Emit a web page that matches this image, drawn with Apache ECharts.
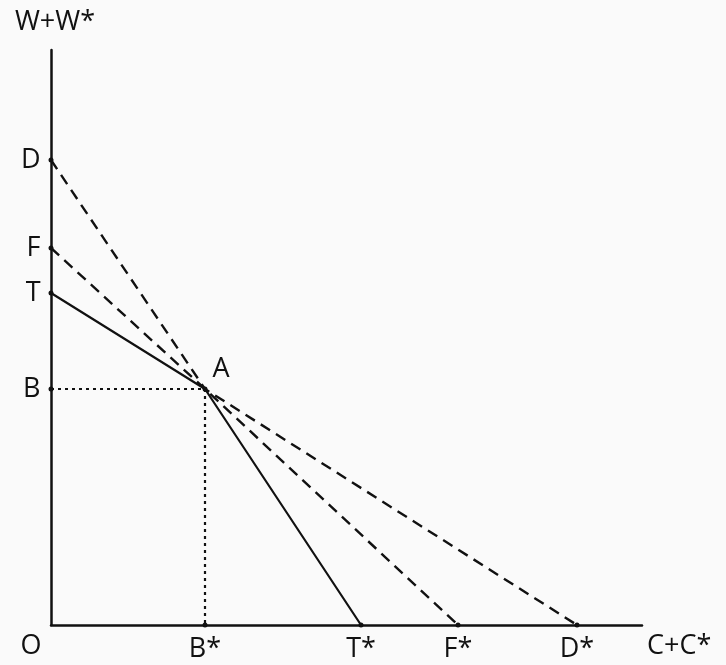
<!DOCTYPE html>
<html>
<head>
<meta charset="utf-8">
<script src="https://cdn.jsdelivr.net/npm/echarts@6/dist/echarts.min.js"></script>
<style>
  html, body { margin: 0; padding: 0; background: #fafafa; }
  #main { width: 726px; height: 665px; }
</style>
</head>
<body>
<div id="main"></div>
<script>
// diagram units (origin O at bottom left)
var pointA = [154, 236];
var yPoints = [['D', 465], ['F', 377], ['T', 332], ['B', 236]];
var xPoints = [['B*', 154], ['T*', 310], ['F*', 407], ['D*', 526]];
var lineT = [[0, 332], pointA, [310, 0]];
var lineF = [[0, 377], pointA, [407, 0]];
var lineD = [[0, 465], pointA, [526, 0]];
var guideB = [[0, 236], pointA, [154, 0]];

var font = 'Open Sans';
var ink = '#111';

var dom = document.getElementById('main');
var myChart = echarts.init(dom);

var yPts = yPoints.map(function (p) { return { value: [0, p[1]], name: p[0] }; });
var xPts = xPoints.map(function (p) { return { value: [p[1], 0], name: p[0] }; });

function lbl(pos, dist, off) {
    return {
        show: true, position: pos, distance: dist, offset: off || [0, 0],
        formatter: '{b}', fontFamily: font, fontSize: 27, color: ink
    };
}

var option = {
    backgroundColor: '#fafafa',
    animation: false,
    grid: { left: 51, right: 84, top: 50, bottom: 40 },
    xAxis: {
        type: 'value', min: 0, max: 591,
        name: 'C+C*', nameLocation: 'end', nameGap: 5,
        nameTextStyle: { fontFamily: font, fontSize: 27, color: ink, verticalAlign: 'top', padding: [8, 0, 0, 0] },
        axisLine: { lineStyle: { color: ink, width: 2.5 } },
        axisTick: { show: false }, axisLabel: { show: false }, splitLine: { show: false }
    },
    yAxis: {
        type: 'value', min: 0, max: 575,
        name: 'W+W*', nameLocation: 'end', nameGap: 14,
        nameTextStyle: { fontFamily: font, fontSize: 27, color: ink, padding: [0, 0, 0, 8] },
        axisLine: { lineStyle: { color: ink, width: 2.5 } },
        axisTick: { show: false }, axisLabel: { show: false }, splitLine: { show: false }
    },
    series: [
        {
            type: 'line', data: lineT, symbol: 'none',
            lineStyle: { color: ink, width: 2.2 }
        },
        {
            type: 'line', data: lineF, symbol: 'none',
            lineStyle: { color: ink, width: 2.4, type: [11, 7] }
        },
        {
            type: 'line', data: lineD, symbol: 'none',
            lineStyle: { color: ink, width: 2.4, type: [11, 7] }
        },
        {
            type: 'line', data: guideB, symbol: 'none',
            lineStyle: { color: ink, width: 2.2, type: [3, 4] }
        },
        {
            type: 'scatter', data: yPts, symbolSize: 5,
            itemStyle: { color: ink, opacity: 1 },
            label: lbl('left', 8)
        },
        {
            type: 'scatter', data: xPts, symbolSize: 5,
            itemStyle: { color: ink, opacity: 1 },
            label: lbl('bottom', 8)
        },
        {
            type: 'scatter', data: [{ value: [0, 0], name: 'O' }], symbolSize: 0,
            itemStyle: { opacity: 1 },
            label: lbl('bottom', 8, [-20, 0])
        },
        {
            type: 'scatter', data: [{ value: pointA, name: 'A' }], symbolSize: 5,
            itemStyle: { color: ink, opacity: 1 },
            label: lbl('right', 0, [5, -20])
        }
    ]
};

myChart.setOption(option);
</script>
</body>
</html>
